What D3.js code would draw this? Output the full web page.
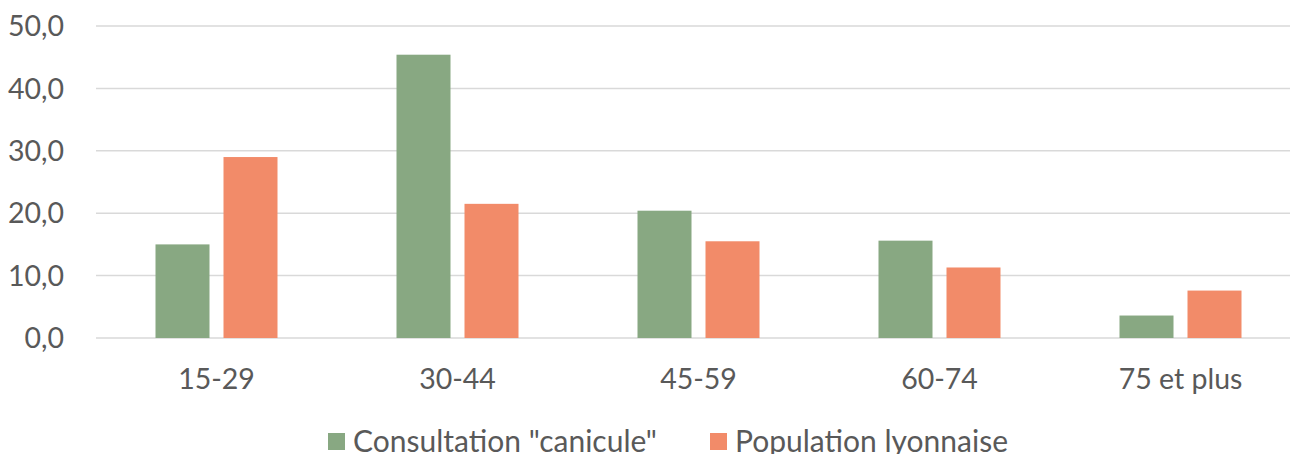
<!DOCTYPE html>
<html><head><meta charset="utf-8">
<script src="https://cdn.jsdelivr.net/npm/d3@7/dist/d3.min.js"></script>
<style>body{margin:0;background:#fff}svg{display:block}text{font-family:Lato,"Open Sans",sans-serif;fill:#595959}</style>
</head><body><svg id="c" width="1290" height="454"></svg>
<script>
const categories = ["15-29","30-44","45-59","60-74","75 et plus"];
const seriesNames = ['Consultation "canicule"', "Population lyonnaise"];
const consultation = [15.0, 45.4, 20.4, 15.6, 3.6];
const population = [29.0, 21.5, 15.5, 11.3, 7.6];
const yTicks = [0,10,20,30,40,50];
const colors = ["#88A882", "#F28B69"];

const svg = d3.select("#c");
const mLeft = 96, mRight = 1301, mTop = 26, mBottom = 338;
const x = d3.scaleBand().domain(categories).range([mLeft, mRight]);
const y = d3.scaleLinear().domain([0,50]).range([mBottom, mTop]);
const x1 = d3.scaleBand().domain([0,1]).range([0,122]).paddingInner(14/68);
const fmt = v => d3.format(".1f")(v).replace(".", ",");

svg.append("g").selectAll("line").data(yTicks).join("line")
  .attr("x1", mLeft).attr("x2", 1290).attr("y1", d=>y(d)).attr("y2", d=>y(d))
  .attr("stroke", "#d9d9d9").attr("stroke-width", 1.5);
svg.append("g").selectAll("text").data(yTicks).join("text")
  .attr("x", 64).attr("y", d=>y(d)).attr("dy","0.36em").attr("text-anchor","end")
  .attr("font-size", 28.5).text(fmt);

const series = [consultation, population];
series.forEach((vals, si) => {
  svg.append("g").selectAll("rect").data(vals).join("rect")
    .attr("x", (d,i)=> x(categories[i]) + x.bandwidth()/2 - 61 + x1(si))
    .attr("width", x1.bandwidth())
    .attr("y", d=>y(d)).attr("height", d=>y(0)-y(d))
    .attr("fill", colors[si]);
});

svg.append("g").selectAll("text").data(categories).join("text")
  .attr("x", d=>x(d)+x.bandwidth()/2).attr("y", 389).attr("text-anchor","middle")
  .attr("font-size", 28.5).text(d=>d);

const lg = svg.append("g");
const legX = [328, 710];
seriesNames.forEach((n,i)=>{
  lg.append("rect").attr("x", legX[i]).attr("y", 433).attr("width", 17).attr("height", 17).attr("fill", colors[i]);
  lg.append("text").attr("x", legX[i]+25).attr("y", 452).attr("font-size", 30).text(n);
});
</script></body></html>
